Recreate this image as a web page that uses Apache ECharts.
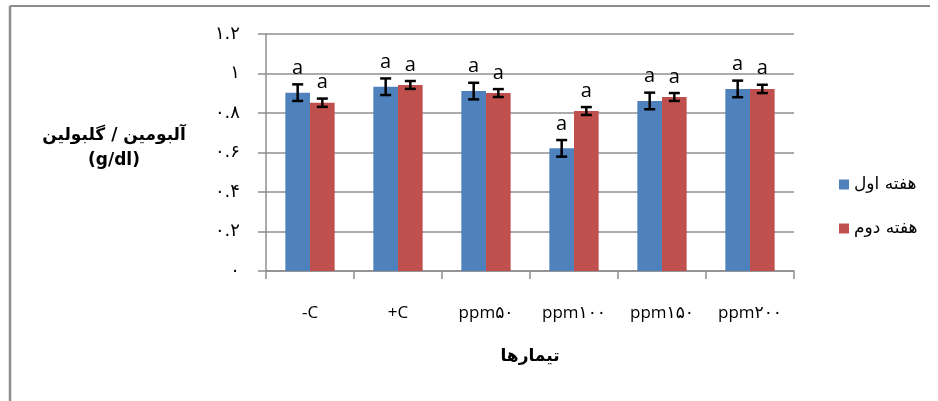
<!DOCTYPE html>
<html>
<head>
<meta charset="utf-8">
<script src="https://cdn.jsdelivr.net/npm/echarts@6/dist/echarts.min.js"></script>
<style>
html,body{margin:0;padding:0;background:#fff;}
#c{width:938px;height:401px;}
</style>
</head>
<body>
<div id="c"></div>
<script>
// ---- data ----
var categories = ['-C', '+C', 'ppm۵۰', 'ppm۱۰۰', 'ppm۱۵۰', 'ppm۲۰۰'];
var seriesNames = ['هفته اول', 'هفته دوم'];
var week1 = [0.903, 0.933, 0.911, 0.621, 0.861, 0.922];
var week2 = [0.852, 0.942, 0.901, 0.810, 0.881, 0.922];
var week1Err = [0.042, 0.042, 0.042, 0.042, 0.042, 0.042];
var week2Err = [0.021, 0.020, 0.020, 0.020, 0.020, 0.021];
var week1Letters = ['a', 'a', 'a', 'a', 'a', 'a'];
var week2Letters = ['a', 'a', 'a', 'a', 'a', 'a'];
var yTickLabels = ['۰', '۰.۲', '۰.۴', '۰.۶', '۰.۸', '۱', '۱.۲'];
var yAxisTitle = 'آلبومین / گلبولین\n(g/dl)';
var xAxisTitle = 'تیمارها';

var colors = ['#4F81BD', '#C0504D'];
var gridColor = '#8f8f8f';
var BAR_FRACTION = 0.56; // 1 - barCategoryGap

function errorSeries(vals, errs, letters, sideIndex) {
  var data = vals.map(function (v, i) { return [i, v, errs[i], letters[i]]; });
  return {
    type: 'custom',
    name: 'err' + sideIndex,
    z: 10,
    silent: true,
    data: data,
    renderItem: function (params, api) {
      var idx = api.value(0);
      var v = api.value(1);
      var e = api.value(2);
      var band = api.size([1, 0])[0];
      var barW = band * BAR_FRACTION / 2;
      var off = (sideIndex === 0 ? -1 : 1) * barW / 2;
      var top = api.coord([idx, v + e]);
      var bot = api.coord([idx, v - e]);
      var x = top[0] + off;
      var cap = 5.5;
      var st = { stroke: '#000', lineWidth: 2.5 };
      return {
        type: 'group',
        children: [
          { type: 'line', shape: { x1: x, y1: top[1], x2: x, y2: bot[1] }, style: st },
          { type: 'line', shape: { x1: x - cap, y1: top[1], x2: x + cap, y2: top[1] }, style: st },
          { type: 'line', shape: { x1: x - cap, y1: bot[1], x2: x + cap, y2: bot[1] }, style: st },
          { type: 'text', style: { text: data[params.dataIndex][3], x: x, y: top[1] - 6,
              textAlign: 'center', textVerticalAlign: 'bottom',
              font: '20px "Open Sans", "DejaVu Sans", sans-serif', fill: '#000' } }
        ]
      };
    }
  };
}

var chart = echarts.init(document.getElementById('c'), null, { renderer: 'canvas' });
chart.setOption({
  animation: false,
  backgroundColor: '#fff',
  grid: { left: 266, right: 144, top: 34, bottom: 130, containLabel: false },
  legend: {
    orient: 'vertical',
    left: 834,
    top: 171,
    itemWidth: 10,
    itemHeight: 10,
    itemGap: 27,
    icon: 'rect',
    data: seriesNames,
    textStyle: { fontSize: 17, color: '#000', fontFamily: '"DejaVu Sans", sans-serif' }
  },
  xAxis: {
    type: 'category',
    data: categories,
    axisLine: { lineStyle: { color: gridColor, width: 1.5 } },
    axisTick: { show: true, length: 8, lineStyle: { color: gridColor, width: 1.5 } },
    axisLabel: { color: '#000', fontSize: 17, margin: 34, interval: 0,
      fontFamily: '"Open Sans", "DejaVu Sans", sans-serif' }
  },
  yAxis: {
    type: 'value',
    min: 0,
    max: 1.2,
    interval: 0.2,
    axisLine: { show: true, lineStyle: { color: gridColor, width: 1.5 } },
    axisTick: { show: true, length: 8, lineStyle: { color: gridColor, width: 1.5 } },
    splitLine: { show: true, lineStyle: { color: gridColor, width: 1.5 } },
    axisLabel: {
      color: '#000', fontSize: 18, margin: 26,
      fontFamily: '"DejaVu Sans", sans-serif',
      formatter: function (val) { return yTickLabels[Math.round(val / 0.2)]; }
    }
  },
  graphic: [
    { type: 'line', shape: { x1: 10, y1: 6, x2: 930, y2: 6 }, style: { stroke: '#8c8c8c', lineWidth: 2 } },
    { type: 'line', shape: { x1: 10, y1: 6, x2: 10, y2: 401 }, style: { stroke: '#8c8c8c', lineWidth: 2.5 } },
    { type: 'text', x: 114, y: 148, style: { text: yAxisTitle, textAlign: 'center', textVerticalAlign: 'middle',
        font: 'bold 17px "DejaVu Sans", sans-serif', fill: '#000', lineHeight: 25 } },
    { type: 'text', x: 530, y: 357, style: { text: xAxisTitle, textAlign: 'center', textVerticalAlign: 'middle',
        font: 'bold 17px "DejaVu Sans", sans-serif', fill: '#000' } }
  ],
  series: [
    { name: seriesNames[0], type: 'bar', data: week1, barGap: '0%', barCategoryGap: '44%',
      itemStyle: { color: colors[0] } },
    { name: seriesNames[1], type: 'bar', data: week2, barGap: '0%', barCategoryGap: '44%',
      itemStyle: { color: colors[1] } },
    errorSeries(week1, week1Err, week1Letters, 0),
    errorSeries(week2, week2Err, week2Letters, 1)
  ]
});
</script>
</body>
</html>
